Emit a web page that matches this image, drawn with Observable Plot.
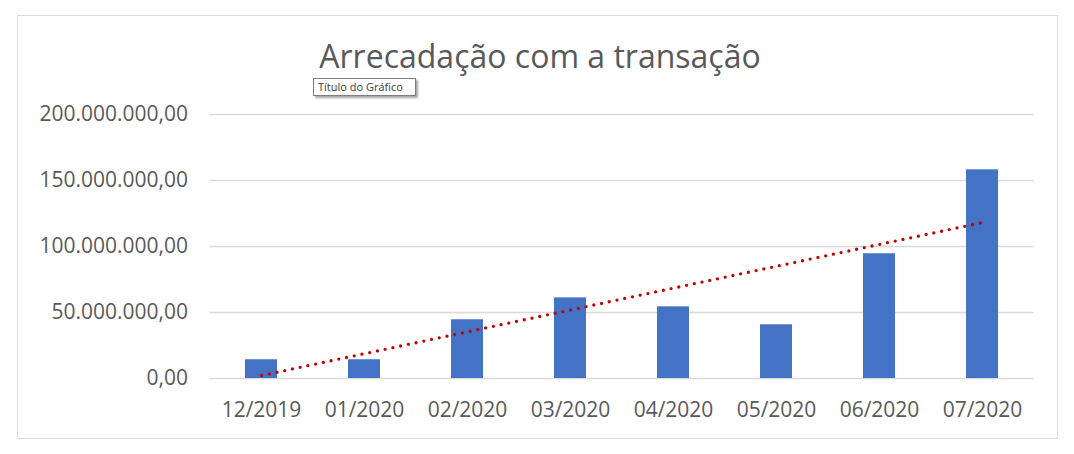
<!DOCTYPE html>
<html>
<head>
<meta charset="utf-8">
<script src="https://cdn.jsdelivr.net/npm/d3@7"></script>
<script src="https://cdn.jsdelivr.net/npm/@observablehq/plot@0.6"></script>
<style>
  html, body { margin: 0; padding: 0; background: #fff; }
  #wrap { position: relative; width: 1074px; height: 454px; overflow: hidden; font-family: "Open Sans", sans-serif; }
  #frame { position: absolute; left: 17px; top: 15px; width: 1041px; height: 424px; border: 1px solid #d9d9d9; box-sizing: border-box; }
  #title { position: absolute; left: 0; width: 1080px; top: 39.5px; text-align: center; font-size: 32px; color: #595959; line-height: 1; }
  #tip { position: absolute; left: 313px; top: 78px; width: 103px; height: 18px; border: 1px solid #7f7f7f; background: #fff; box-shadow: 2px 2px 2px rgba(0,0,0,0.35); font-size: 11px; color: #404040; box-sizing: border-box; padding-left: 4px; line-height: 16px; }
  #chart { position: absolute; left: 0; top: 0; }
</style>
</head>
<body>
<div id="wrap">
  <div id="frame"></div>
  <div id="chart"></div>
  <div id="title">Arrecadação com a transação</div>
  <div id="tip">Título do Gráfico</div>
</div>
<script>
const months = ["12/2019", "01/2020", "02/2020", "03/2020", "04/2020", "05/2020", "06/2020", "07/2020"];
const values = [14.2e6, 14.2e6, 44.5e6, 61.1e6, 54.3e6, 40.7e6, 94.5e6, 158.1e6];
const yTicks = [0, 50e6, 100e6, 150e6, 200e6];

const data = months.map((m, i) => ({month: m, value: values[i], i}));

// linear trend (least squares) over month index
const mx = d3.mean(data, d => d.i);
const my = d3.mean(values);
const slope = d3.sum(data, d => (d.i - mx) * (d.value - my)) / d3.sum(data, d => (d.i - mx) ** 2);
const intercept = my - slope * mx;
const trend = data.map(d => ({month: d.month, value: intercept + slope * d.i}));

const br = d3.formatLocale({decimal: ",", thousands: ".", grouping: [3], currency: ["R$", ""]});
const fmt = br.format(",.2f");

const chart = Plot.plot({
  width: 1074,
  height: 454,
  marginLeft: 209.5,
  marginRight: 40.5,
  marginTop: 114,
  marginBottom: 76,
  style: {fontFamily: "Open Sans, sans-serif", fontSize: "21px", color: "#595959", background: "transparent"},
  x: {domain: months, paddingInner: 0.69, paddingOuter: 0.345, label: null, tickSize: 0, tickPadding: 24},
  y: {domain: [0, 200e6], ticks: yTicks, tickFormat: fmt, label: null, tickSize: 0, tickPadding: 22},
  marks: [
    Plot.gridY(yTicks, {stroke: "#d9d9d9", strokeOpacity: 1, strokeWidth: 1.6}),
    Plot.barY(data, {x: "month", y: "value", fill: "#4472C4"}),
    Plot.line(trend, {x: "month", y: "value", stroke: "#C00000", strokeWidth: 3.3, strokeDasharray: "0 7.9", strokeLinecap: "round"})
  ]
});
document.getElementById("chart").appendChild(chart);
</script>
</body>
</html>
